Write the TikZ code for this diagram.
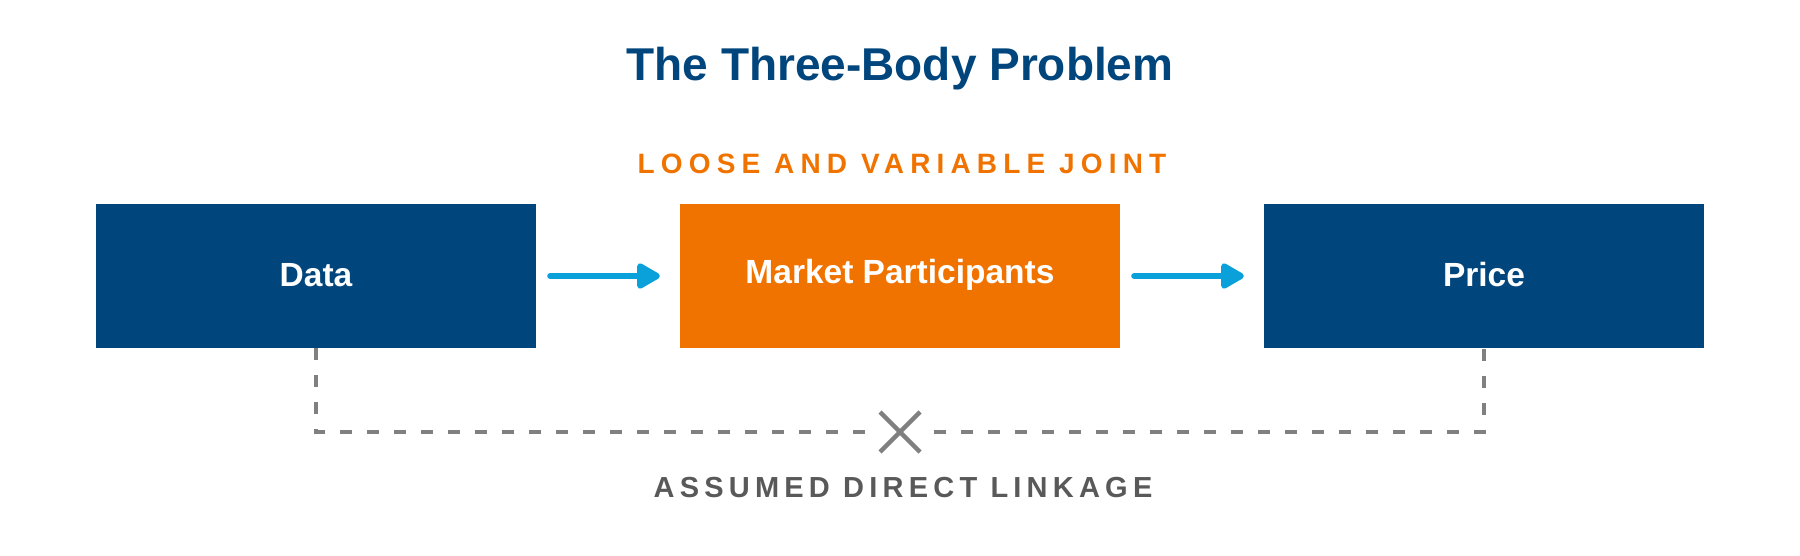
\documentclass[tikz,border=0pt]{standalone}
\usepackage{fontspec}
\setmainfont{Liberation Sans}
\newfontfamily\spacedA[LetterSpace=22]{Liberation Sans}
\newfontfamily\spacedB[LetterSpace=18]{Liberation Sans}
\usetikzlibrary{arrows.meta}
\definecolor{boxblue}{HTML}{00467D}
\definecolor{boxorange}{HTML}{F07300}
\definecolor{arrowblue}{HTML}{0AA0DA}
\definecolor{linkgray}{HTML}{808080}
\definecolor{textgray}{HTML}{595959}
\tikzset{
  block/.style={minimum width=440pt, minimum height=144pt, inner sep=0pt},
  blocktext/.style={text=white, font=\fontsize{33.5}{38}\selectfont\bfseries},
  flow/.style={draw=arrowblue, line width=6pt, line cap=round,
    -{Triangle[length=26pt,width=28pt,round]}},
  linkline/.style={draw=linkgray, line width=3.5pt, dash pattern=on 12pt off 15pt},
  crossline/.style={draw=linkgray, line width=4.5pt},
}
\begin{document}
\begin{tikzpicture}[x=1pt,y=-1pt]
\useasboundingbox (0,0) rectangle (1800,556);
\node[text=boxblue, font=\fontsize{46}{50}\selectfont\bfseries] (title) at (900,69) {The Three-Body Problem};
\node[text=boxorange, font=\fontsize{28}{32}\spacedA\bfseries] (joint) at (902,164) {LOOSE AND VARIABLE JOINT};
\node[block, fill=boxblue] (data) at (316,276) {};
\node[block, fill=boxorange] (market) at (900,276) {};
\node[block, fill=boxblue] (price) at (1484,276) {};
\node[blocktext] at ([yshift=1pt]data.center) {Data};
\node[blocktext] at ([yshift=1pt]market.center) {Market Participants};
\node[blocktext] at ([yshift=1pt]price.center) {Price};
\draw[flow] ([xshift=14pt]data.east) -- ([xshift=-20pt]market.west);
\draw[flow] ([xshift=14pt]market.east) -- ([xshift=-20pt]price.west);
\coordinate (crossc) at (900,432);
\draw[linkline] (data.south) -- (data.south |- crossc) -- (price.south |- crossc) -- (price.south);
\node[fill=white, minimum width=50pt, minimum height=10pt, inner sep=0pt] (cross) at (crossc) {};
\draw[crossline] ([shift={(-20pt,-20pt)}]crossc) -- ([shift={(20pt,20pt)}]crossc);
\draw[crossline] ([shift={(-20pt,20pt)}]crossc) -- ([shift={(20pt,-20pt)}]crossc);
\node[text=textgray, font=\fontsize{29}{33}\spacedB\bfseries] (linkage) at (903,488) {ASSUMED DIRECT LINKAGE};
\end{tikzpicture}
\end{document}
